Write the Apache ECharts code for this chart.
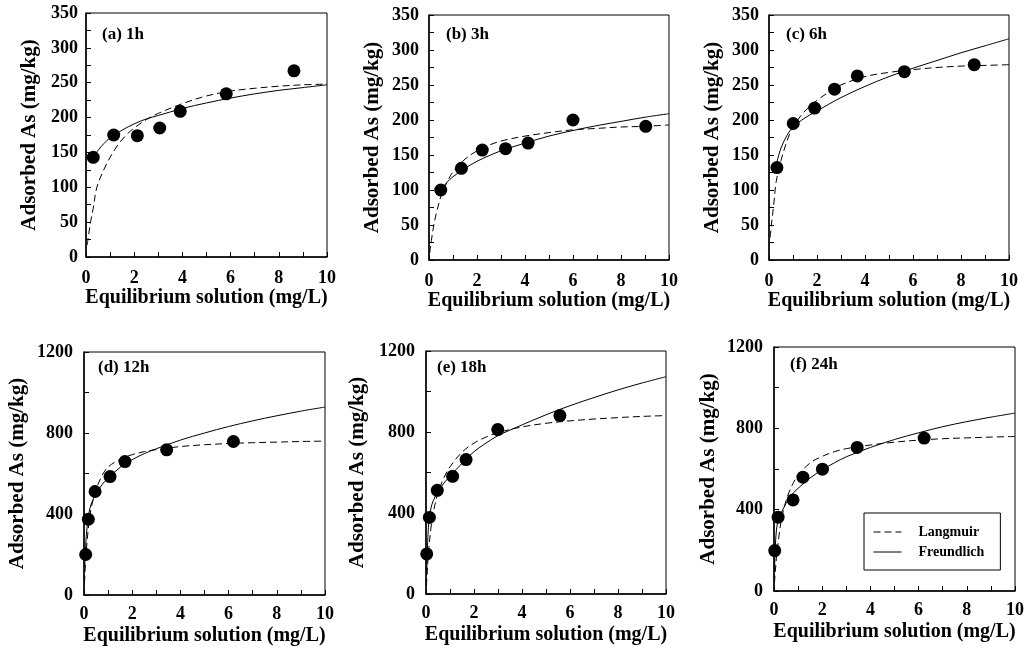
<!DOCTYPE html>
<html><head><meta charset="utf-8">
<script src="https://cdn.jsdelivr.net/npm/echarts@6/dist/echarts.min.js"></script>
<style>html,body{margin:0;padding:0;background:#fff}#c{width:1028px;height:650px}</style>
</head><body><div id="c"></div>
<script>
// ---------- DATA ----------
const panelLabels = ['(a) 1h', '(b) 3h', '(c) 6h', '(d) 12h', '(e) 18h', '(f) 24h'];
const xAxisName = 'Equilibrium solution (mg/L)';
const yAxisName = 'Adsorbed As (mg/kg)';
const fitNames = ['Langmuir', 'Freundlich'];
const xMax = 10, xStep = 2;
const yMaxes = [350, 350, 350, 1200, 1200, 1200];
const ySteps = [50, 50, 50, 400, 400, 400];

// observed points [Ce, q]
const obs1h  = [[0.30,143],[1.15,175],[2.13,174],[3.06,185],[3.91,209],[5.82,234],[8.63,267]];
const obs3h  = [[0.49,100],[1.35,131],[2.22,157],[3.19,159],[4.13,167],[6.00,200],[9.03,191]];
const obs6h  = [[0.33,132],[1.01,195],[1.90,217],[2.73,244],[3.68,263],[5.64,269],[8.55,279]];
const obs12h = [[0.07,200],[0.18,374],[0.46,511],[1.08,585],[1.70,659],[3.43,717],[6.20,758]];
const obs18h = [[0.03,198],[0.14,378],[0.47,512],[1.11,581],[1.67,664],[2.99,812],[5.58,881]];
const obs24h = [[0.03,199],[0.17,363],[0.79,448],[1.20,560],[2.01,599],[3.45,706],[6.23,752]];

// Langmuir curves (dashed)
const lang1h  = [[0.05,17],[0.1,30],[0.2,52],[0.3,70],[0.45,100],[0.75,126],[1,143],[1.35,162],[1.7,176],[2,185],[2.5,197],[3,206],[4,220],[5,231],[6,238],[7,242],[8,245],[9,247],[10,248]];
const lang3h  = [[0.03,10],[0.1,28],[0.2,50],[0.3,66],[0.5,91],[0.75,111],[1,126],[1.5,144],[2,156],[2.5,164],[3,170],[4,177],[5,182],[6,186],[7,188],[8,190],[9,191],[10,193]];
const lang6h  = [[0.05,32],[0.1,50],[0.2,80],[0.3,112],[0.5,142],[0.75,170],[1,190],[1.5,213],[2,228],[2.5,240],[3,250],[4,262],[5,268],[6,272],[7,275],[8,277],[9,278],[10,279]];
const lang12h = [[0.02,60],[0.05,130],[0.1,225],[0.2,350],[0.3,430],[0.5,520],[0.75,590],[1,632],[1.5,670],[2,693],[2.5,708],[3,718],[4,733],[5,742],[6,748],[7,752],[8,755],[9,758],[10,760]];
const lang18h = [[0.02,40],[0.05,110],[0.1,200],[0.2,320],[0.3,400],[0.5,500],[0.75,575],[1,628],[1.5,700],[2,745],[2.5,775],[3,797],[4,825],[5,843],[6,855],[7,864],[8,871],[9,877],[10,881]];
const lang24h = [[0.02,40],[0.05,90],[0.1,160],[0.2,265],[0.3,345],[0.5,445],[0.75,520],[1,568],[1.5,630],[2,662],[2.5,685],[3,700],[4,718],[5,732],[6,742],[7,749],[8,753],[9,757],[10,760]];

// Freundlich curves (solid)
const freu1h  = [[0.3,142],[0.5,153],[0.75,163],[1,171],[1.5,182],[2,191],[2.5,198],[3,203],[4,213],[5,221],[6,228],[7,234],[8,239],[9,243],[10,247]];
const freu3h  = [[0.4,93],[0.5,100],[0.75,111],[1,119],[1.5,131],[2,141],[2.5,149],[3,156],[4,167],[5,177],[6,185],[7,192],[8,198],[9,204],[10,209]];
const freu6h  = [[0.3,136],[0.5,160],[0.75,178],[1,190],[1.5,203],[2,213],[3,232],[4,248],[5,262],[6,274],[7,285],[8,296],[9,306],[10,316]];
const freu12h = [[0.03,140],[0.1,300],[0.2,400],[0.3,450],[0.5,500],[0.75,545],[1,578],[1.5,630],[2,668],[2.5,698],[3,722],[4,765],[5,800],[6,832],[7,860],[8,885],[9,908],[10,928]];
const freu18h = [[0.03,100],[0.1,330],[0.2,420],[0.3,460],[0.5,505],[0.75,548],[1,582],[1.5,645],[2,703],[2.5,745],[3,782],[4,835],[5,885],[6,930],[7,970],[8,1008],[9,1042],[10,1073]];
const freu24h = [[0.02,100],[0.05,200],[0.1,300],[0.2,360],[0.3,385],[0.5,430],[0.75,475],[1,505],[1.5,556],[2,596],[2.5,630],[3,660],[4,706],[5,745],[6,778],[7,808],[8,833],[9,855],[10,875]];

const observed = [obs1h, obs3h, obs6h, obs12h, obs18h, obs24h];
const langmuir = [lang1h, lang3h, lang6h, lang12h, lang18h, lang24h];
const freundlich = [freu1h, freu3h, freu6h, freu12h, freu18h, freu24h];

// ---------- LAYOUT ----------
const layout = [
  {left:86,  top:13,  width:241, height:244, yGap:46, xGap:26, xMargin:12, yMargin:8,  labX:102, labY:26},
  {left:429, top:15,  width:240, height:245, yGap:46, xGap:26, xMargin:12, yMargin:10, labX:446, labY:26},
  {left:769, top:15,  width:240, height:245, yGap:46, xGap:26, xMargin:12, yMargin:10, labX:786, labY:26},
  {left:84,  top:352, width:241, height:243, yGap:56, xGap:31, xMargin:10, yMargin:11, labX:98,  labY:359},
  {left:426, top:351, width:240, height:243, yGap:58, xGap:31, xMargin:10, yMargin:11, labX:437, labY:359},
  {left:774, top:347, width:241, height:244, yGap:55, xGap:31, xMargin:10, yMargin:11, labX:790, labY:356}
];
const FONT = '"Liberation Serif","Times New Roman",serif';
const BLACK = '#000';

const grids = [], xAxes = [], yAxes = [], series = [], titles = [];
layout.forEach((L, i) => {
  grids.push({left:L.left, top:L.top, width:L.width, height:L.height, show:true,
    borderColor:BLACK, borderWidth:1, backgroundColor:'transparent', containLabel:false});
  const common = {
    type:'value', gridIndex:i, nameLocation:'middle',
    axisLine:{show:true, lineStyle:{color:BLACK, width:1.5}},
    axisTick:{show:true, inside:true, length:5, lineStyle:{color:BLACK, width:1}},
    minorTick:{show:true, splitNumber:2, length:5, lineStyle:{color:BLACK, width:1}},
    splitLine:{show:false}, minorSplitLine:{show:false},
    nameTextStyle:{color:BLACK, fontFamily:FONT, fontWeight:'bold', fontSize:20}
  };
  xAxes.push(Object.assign({}, common, {
    min:0, max:xMax, interval:xStep, name:xAxisName, nameGap:L.xGap,
    axisLabel:{color:BLACK, fontFamily:FONT, fontWeight:'bold', fontSize:18, margin:L.xMargin,
      formatter:v => String(v)}
  }));
  yAxes.push(Object.assign({}, common, {
    min:0, max:yMaxes[i], interval:ySteps[i], name:yAxisName, nameGap:L.yGap, nameRotate:90,
    nameTextStyle:{color:BLACK, fontFamily:FONT, fontWeight:'bold', fontSize:21},
    axisLabel:{color:BLACK, fontFamily:FONT, fontWeight:'bold', fontSize:18, margin:L.yMargin,
      formatter:v => String(v)}
  }));
  titles.push({text:panelLabels[i], left:L.labX, top:L.labY, padding:0,
    textStyle:{color:BLACK, fontFamily:FONT, fontWeight:'bold', fontSize:17}});
  series.push({name:fitNames[0], type:'line', xAxisIndex:i, yAxisIndex:i, data:langmuir[i],
    symbol:'none', showSymbol:false, smooth:0.35, clip:true,
    lineStyle:{color:BLACK, width:1, type:[7,4]}, itemStyle:{color:BLACK}, z:2});
  series.push({name:fitNames[1], type:'line', xAxisIndex:i, yAxisIndex:i, data:freundlich[i],
    symbol:'none', showSymbol:false, smooth:0.35, clip:true,
    lineStyle:{color:BLACK, width:1, type:'solid'}, itemStyle:{color:BLACK}, z:2});
  series.push({name:'Observed', type:'scatter', xAxisIndex:i, yAxisIndex:i, data:observed[i],
    symbol:'circle', symbolSize:13, itemStyle:{color:BLACK, opacity:1}, z:3});
});

const chart = echarts.init(document.getElementById('c'), null, {renderer:'canvas'});
chart.setOption({
  animation:false,
  backgroundColor:'#fff',
  title:titles,
  grid:grids, xAxis:xAxes, yAxis:yAxes, series:series,
  legend:{
    data:fitNames, orient:'vertical', left:864, top:513, width:137,
    backgroundColor:'#fff', borderColor:BLACK, borderWidth:1,
    padding:[12, 16, 11, 9], itemGap:6, itemWidth:28, itemHeight:14,
    selectedMode:false,
    itemStyle:{opacity:0},
    lineStyle:{width:1},
    textStyle:{color:BLACK, fontFamily:FONT, fontWeight:'bold', fontSize:14, padding:[0,0,0,12]}
  }
});
</script>
</body></html>
